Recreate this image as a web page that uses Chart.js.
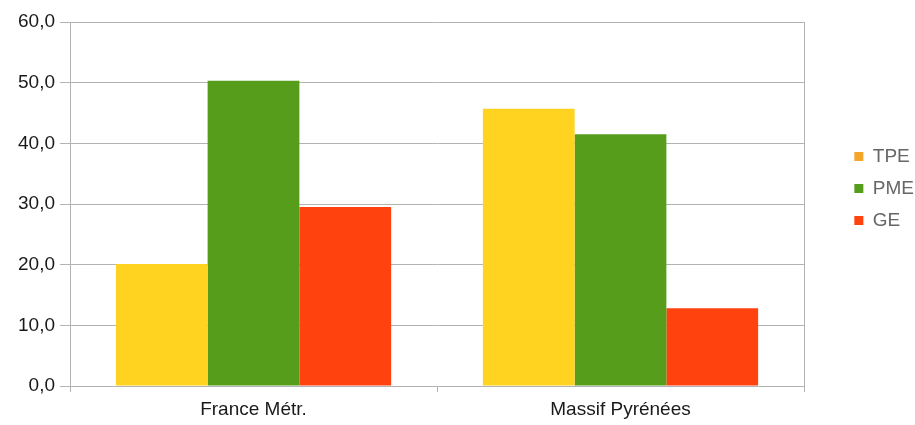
<!DOCTYPE html>
<html>
<head>
<meta charset="utf-8">
<script src="https://cdn.jsdelivr.net/npm/chart.js@4.4.0/dist/chart.umd.min.js"></script>
<style>
  html, body { margin: 0; padding: 0; background: #fff; }
  #wrap { width: 915px; height: 425px; }
</style>
</head>
<body>
<div id="wrap"><canvas id="grafica"></canvas></div>
<script>
// donnees du graphique
var categories = ['France Métr.', 'Massif Pyrénées'];
var series = ['TPE', 'PME', 'GE'];
var tpe = [20.1, 45.7];
var pme = [50.3, 41.5];
var ge = [29.5, 12.8];
var yTicks = [0, 10, 20, 30, 40, 50, 60];

var barColors = ['#ffd320', '#579d1c', '#ff420e'];
var legendColors = ['#f5a52a', '#579d1c', '#ff420e'];

var fuente = 'Liberation Sans, Arial, sans-serif';

var ctx = document.getElementById('grafica');
var chart = new Chart(ctx, {
    type: 'bar',
    data: {
        labels: categories,
        datasets: [
            { label: series[0], data: tpe, backgroundColor: barColors[0] },
            { label: series[1], data: pme, backgroundColor: barColors[1] },
            { label: series[2], data: ge, backgroundColor: barColors[2] }
        ]
    },
    options: {
        responsive: true,
        maintainAspectRatio: false,
        animation: false,
        layout: { padding: { top: 22, right: -9, left: 0, bottom: 0 } },
        datasets: { bar: { categoryPercentage: 0.75, barPercentage: 1.0 } },
        plugins: {
            tooltip: { enabled: false },
            legend: {
                position: 'right',
                align: 'start',
                title: { display: true, text: '', font: { size: 10 }, padding: { top: 100, bottom: 0 } },
                labels: {
                    boxWidth: 9,
                    boxHeight: 9,
                    padding: 13,
                    color: '#1a1a1a',
                    font: { family: fuente, size: 19 },
                    generateLabels: function (c) {
                        return series.map(function (s, i) {
                            return {
                                text: s,
                                fillStyle: legendColors[i],
                                strokeStyle: legendColors[i],
                                lineWidth: 0,
                                datasetIndex: i
                            };
                        });
                    }
                }
            }
        },
        scales: {
            x: {
                offset: true,
                afterFit: function (s) { s.height = 39; },
                grid: {
                    display: true,
                    drawOnChartArea: false,
                    offset: true,
                    tickLength: 6,
                    color: '#b3b3b3'
                },
                border: { display: true, color: '#b3b3b3' },
                ticks: {
                    color: '#1a1a1a',
                    padding: 6,
                    font: { family: fuente, size: 19 }
                }
            },
            y: {
                min: 0,
                max: 60,
                afterFit: function (s) { s.width = 70; },
                afterBuildTicks: function (axis) {
                    axis.ticks = yTicks.map(function (v) { return { value: v }; });
                },
                grid: { color: '#b3b3b3', tickLength: 10 },
                border: { display: true, color: '#b3b3b3' },
                ticks: {
                    color: '#1a1a1a',
                    padding: 5,
                    font: { family: fuente, size: 19 },
                    callback: function (v) { return v.toFixed(1).replace('.', ','); }
                }
            },
            y2: {
                position: 'right',
                min: 0,
                max: 60,
                afterFit: function (s) {
                    var lw = s.chart.legend ? s.chart.legend.width : 0;
                    s.width = Math.max(0, 915 + 9 - lw - 804);
                },
                grid: { display: false },
                border: { display: true, color: '#b3b3b3' },
                ticks: { display: false }
            }
        }
    }
});
</script>
</body>
</html>
